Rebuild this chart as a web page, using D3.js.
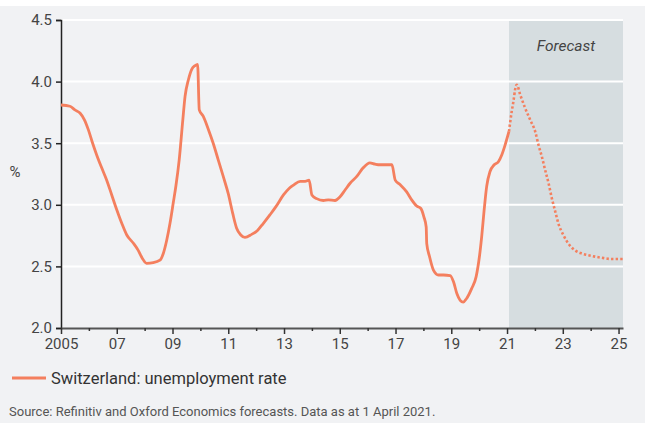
<!DOCTYPE html>
<html>
<head>
<meta charset="utf-8">
<script src="https://cdn.jsdelivr.net/npm/d3@7"></script>
<style>
  html, body { margin: 0; padding: 0; background: #f1f2f4; }
  svg { display: block; }
  text { font-family: Roboto, "Noto Sans", sans-serif; }
</style>
</head>
<body>
<svg id="chart" width="645" height="423"></svg>
<script>
// ---- Data ----
const actualYears = [2005.0, 2005.32, 2005.5, 2005.68, 2005.84, 2005.98, 2006.12, 2006.28, 2006.46, 2006.64, 2006.82, 2007.0, 2007.18, 2007.36, 2007.59, 2007.77, 2007.92, 2008.07, 2008.31, 2008.55, 2008.67, 2008.79, 2008.91, 2009.03, 2009.12, 2009.24, 2009.37, 2009.45, 2009.57, 2009.69, 2009.81, 2009.90, 2009.96, 2010.10, 2010.29, 2010.46, 2010.64, 2010.82, 2011.0, 2011.16, 2011.30, 2011.45, 2011.60, 2011.84, 2012.04, 2012.26, 2012.50, 2012.71, 2012.98, 2013.19, 2013.34, 2013.58, 2013.76, 2013.90, 2014.0, 2014.17, 2014.41, 2014.59, 2014.83, 2015.01, 2015.19, 2015.37, 2015.61, 2015.84, 2016.08, 2016.27, 2016.44, 2016.69, 2016.87, 2016.99, 2017.16, 2017.40, 2017.58, 2017.76, 2017.91, 2018.02, 2018.10, 2018.12, 2018.22, 2018.36, 2018.54, 2018.72, 2018.96, 2019.08, 2019.20, 2019.32, 2019.43, 2019.55, 2019.73, 2019.89, 2020.01, 2020.09, 2020.18, 2020.27, 2020.39, 2020.54, 2020.69, 2020.81, 2020.93, 2021.07];
const actualRate = [3.81, 3.80, 3.77, 3.745, 3.69, 3.61, 3.51, 3.405, 3.30, 3.20, 3.08, 2.96, 2.85, 2.755, 2.69, 2.63, 2.565, 2.525, 2.53, 2.55, 2.605, 2.71, 2.85, 3.02, 3.15, 3.365, 3.69, 3.88, 4.015, 4.10, 4.13, 4.14, 3.77, 3.72, 3.61, 3.50, 3.365, 3.23, 3.09, 2.93, 2.81, 2.755, 2.735, 2.76, 2.79, 2.85, 2.92, 2.985, 3.08, 3.135, 3.16, 3.19, 3.19, 3.20, 3.08, 3.05, 3.035, 3.04, 3.035, 3.065, 3.12, 3.175, 3.23, 3.30, 3.34, 3.33, 3.325, 3.325, 3.325, 3.20, 3.165, 3.105, 3.04, 2.99, 2.97, 2.90, 2.82, 2.685, 2.58, 2.47, 2.43, 2.43, 2.425, 2.375, 2.28, 2.225, 2.21, 2.24, 2.32, 2.415, 2.58, 2.74, 2.96, 3.15, 3.27, 3.325, 3.35, 3.405, 3.485, 3.595];
const forecastYears = [2021.07, 2021.17, 2021.23, 2021.29, 2021.35, 2021.47, 2021.65, 2021.83, 2022.01, 2022.13, 2022.25, 2022.37, 2022.49, 2022.61, 2022.73, 2022.84, 2023.02, 2023.20, 2023.44, 2023.68, 2024.04, 2024.40, 2024.76, 2025.16];
const forecastRate = [3.595, 3.76, 3.84, 3.935, 3.975, 3.895, 3.785, 3.69, 3.595, 3.485, 3.39, 3.28, 3.175, 3.05, 2.945, 2.85, 2.755, 2.685, 2.63, 2.605, 2.585, 2.57, 2.56, 2.56];
const yTicks = [2.0, 2.5, 3.0, 3.5, 4.0, 4.5];
const xTickYears = d3.range(2005, 2026);
const xTickLabels = {2005: "2005", 2007: "07", 2009: "09", 2011: "11", 2013: "13", 2015: "15", 2017: "17", 2019: "19", 2021: "21", 2023: "23", 2025: "25"};
const forecastStart = 2021.07;
const seriesName = "Switzerland: unemployment rate";
const sourceText = "Source: Refinitiv and Oxford Economics forecasts. Data as at 1 April 2021.";

// ---- Layout ----
const W = 645, H = 423;
const plot = { left: 61, right: 623, top: 20, bottom: 328 };
const lineColor = "#f47f5e";

const svg = d3.select("#chart");
svg.append("rect").attr("x", 0).attr("y", 0).attr("width", W).attr("height", H).attr("fill", "#f1f2f4");
svg.append("rect").attr("x", 0).attr("y", 0).attr("width", W).attr("height", 6).attr("fill", "#ffffff");

const x = d3.scaleLinear().domain([2005, 2025.16]).range([plot.left, plot.right]);
const y = d3.scaleLinear().domain([2.0, 4.5]).range([plot.bottom, plot.top]);

// forecast shading
svg.append("rect")
  .attr("x", x(forecastStart)).attr("y", y(4.5))
  .attr("width", x(2025.16) - x(forecastStart))
  .attr("height", y(2.0) - y(4.5))
  .attr("fill", "#d6dde0");

// gridlines
svg.append("g").selectAll("line").data(yTicks.filter(d => d > 2.0)).join("line")
  .attr("x1", plot.left).attr("x2", plot.right)
  .attr("y1", d => y(d)).attr("y2", d => y(d))
  .attr("stroke", "#ffffff").attr("stroke-width", 2);

svg.append("text")
  .attr("x", (x(forecastStart) + x(2025.16)) / 2).attr("y", 51)
  .attr("text-anchor", "middle")
  .attr("font-size", 15.5).attr("font-style", "italic").attr("fill", "#444")
  .text("Forecast");

// y axis
const yAxis = d3.axisLeft(y).tickValues(yTicks).tickFormat(d3.format(".1f")).tickSize(5).tickPadding(4);
const gy = svg.append("g").attr("transform", `translate(${plot.left},0)`).call(yAxis);
gy.select(".domain").attr("stroke", "#222").attr("stroke-width", 1.5);
gy.selectAll(".tick line").attr("stroke", "#222").attr("stroke-width", 1.5);
gy.selectAll(".tick text").attr("font-size", 15).attr("fill", "#444").attr("font-family", "Roboto, sans-serif");

svg.append("text").attr("x", 15).attr("y", 177).attr("text-anchor", "middle")
  .attr("font-size", 15).attr("fill", "#444").text("%");

// x axis
const xAxis = d3.axisBottom(x).tickValues(xTickYears)
  .tickFormat(d => xTickLabels[d] || "").tickSize(6).tickPadding(4).tickSizeOuter(0);
const gx = svg.append("g").attr("transform", `translate(0,${plot.bottom})`).call(xAxis);
gx.select(".domain").attr("stroke", "#555").attr("stroke-width", 2);
gx.selectAll(".tick line").attr("stroke", "#333").attr("stroke-width", 1.5)
  .attr("y2", d => xTickLabels[d] ? 6 : 3);
gx.selectAll(".tick text").attr("font-size", 15).attr("fill", "#444").attr("font-family", "Roboto, sans-serif");

// lines
const lineGen = d3.line().x(d => x(d[0])).y(d => y(d[1])).curve(d3.curveMonotoneX);

svg.append("path")
  .datum(d3.zip(forecastYears, forecastRate))
  .attr("d", lineGen)
  .attr("fill", "none").attr("stroke", lineColor).attr("stroke-width", 2.6)
  .attr("stroke-dasharray", "2.4,2.2");

svg.append("path")
  .datum(d3.zip(actualYears, actualRate))
  .attr("d", lineGen)
  .attr("fill", "none").attr("stroke", lineColor).attr("stroke-width", 2.8)
  .attr("stroke-linejoin", "round");

// legend
svg.append("line").attr("x1", 12).attr("x2", 46).attr("y1", 378).attr("y2", 378)
  .attr("stroke", lineColor).attr("stroke-width", 3);
svg.append("text").attr("x", 51).attr("y", 384).attr("font-size", 16.5).attr("fill", "#333").text(seriesName);

// source
svg.append("text").attr("x", 9).attr("y", 416).attr("font-size", 13).attr("fill", "#555").text(sourceText);
</script>
</body>
</html>
